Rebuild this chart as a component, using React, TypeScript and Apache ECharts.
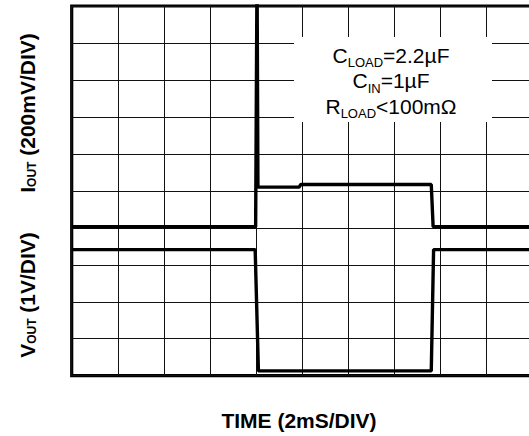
import React, { useEffect, useRef } from "react";
import * as echarts from "echarts";

// divisions (x: 2mS/DIV, y: divisions from bottom of screen)
const ioutX = [0, 3.99, 4.02, 4.04, 4.93, 4.97, 7.8, 7.84, 10];
const ioutY = [4.03, 4.03, 11, 5.1, 5.1, 5.17, 5.17, 4.03, 4.03];
const voutX = [0, 3.98, 4.05, 7.8, 7.85, 10];
const voutY = [3.41, 3.41, 0.13, 0.13, 3.41, 3.41];
const annotationLines = [
  "{m|C}{s|LOAD}{m|=2.2µF}",
  "{m|C}{s|IN}{m|=1µF}",
  "{m|R}{s|LOAD}{m|<100mΩ}",
];
const xTitle = "TIME (2mS/DIV)";
const yTitleV = "{m|V}{s|OUT}{m| (1V/DIV)}";
const yTitleI = "{m|I}{s|OUT}{m| (200mV/DIV)}";

const FONT = "'Liberation Sans', Arial, sans-serif";

export default function App() {
  const ref = useRef<HTMLDivElement>(null);
  useEffect(() => {
    if (!ref.current) return;
    const chart = echarts.init(ref.current, null, { renderer: "svg" });
    const annRich = {
      m: { fontSize: 21, fontFamily: FONT, color: "#222" },
      s: { fontSize: 13, fontFamily: FONT, color: "#222", padding: [15, 0, 0, 0] },
    };
    const axRich = {
      m: { fontSize: 21, fontFamily: FONT, fontWeight: "bold" as const, color: "#000" },
      s: { fontSize: 12, fontFamily: FONT, fontWeight: "bold" as const, color: "#000", padding: [10, 0, 0, 0] },
    };
    const annY = [55, 80.5, 106];
    chart.setOption({
      animation: false,
      backgroundColor: "#fff",
      grid: {
        left: 71.7,
        top: 6,
        right: 12.3,
        bottom: 60.3,
        show: true,
        borderColor: "#000",
        borderWidth: 3.2,
        backgroundColor: "transparent",
      },
      xAxis: {
        type: "value",
        min: 0,
        max: 10,
        interval: 1,
        axisLine: { show: false },
        axisTick: { show: false },
        axisLabel: { show: false },
        splitLine: { show: true, lineStyle: { color: "#111", width: 1 } },
      },
      yAxis: {
        type: "value",
        min: 0,
        max: 10,
        interval: 1,
        axisLine: { show: false },
        axisTick: { show: false },
        axisLabel: { show: false },
        splitLine: { show: true, lineStyle: { color: "#111", width: 1 } },
      },
      series: [
        {
          type: "line",
          name: "IOUT",
          data: ioutX.map((x, i) => [x, ioutY[i]]),
          showSymbol: false,
          clip: true,
          lineStyle: { color: "#000", width: 3.4 },
          z: 5,
        },
        {
          type: "line",
          name: "VOUT",
          data: voutX.map((x, i) => [x, voutY[i]]),
          showSymbol: false,
          clip: true,
          lineStyle: { color: "#000", width: 3.4 },
          z: 5,
        },
      ],
      graphic: [
        {
          type: "rect",
          shape: { x: 294, y: 37, width: 198, height: 85 },
          style: { fill: "#fff" },
          z: 100,
        },
        ...annotationLines.map((t, i) => ({
          type: "text",
          x: 391,
          y: annY[i],
          z: 101,
          style: { text: t, rich: annRich, align: "center", verticalAlign: "middle" },
        })),
        {
          type: "text",
          x: 299,
          y: 420,
          z: 101,
          style: {
            text: xTitle,
            fontSize: 21,
            fontWeight: "bold",
            fontFamily: FONT,
            fill: "#000",
            align: "center",
            verticalAlign: "middle",
          },
        },
        {
          type: "text",
          x: 27,
          y: 295,
          rotation: Math.PI / 2,
          z: 101,
          style: { text: yTitleV, rich: axRich, align: "center", verticalAlign: "middle" },
        },
        {
          type: "text",
          x: 27,
          y: 113,
          rotation: Math.PI / 2,
          z: 101,
          style: { text: yTitleI, rich: axRich, align: "center", verticalAlign: "middle" },
        },
      ],
    });
    return () => chart.dispose();
  }, []);
  return (
    <div
      style={{
        position: "fixed",
        left: 0,
        top: 0,
        width: 529,
        height: 436,
        overflow: "hidden",
        background: "#fff",
      }}
    >
      <div ref={ref} style={{ width: 545, height: 436 }} />
    </div>
  );
}
